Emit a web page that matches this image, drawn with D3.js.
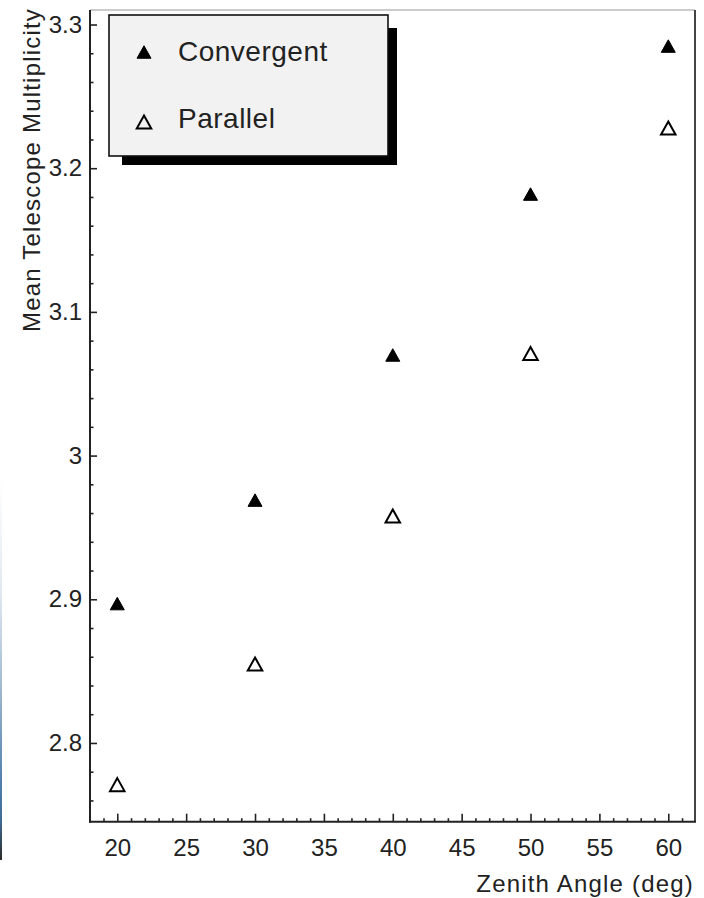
<!DOCTYPE html>
<html>
<head>
<meta charset="utf-8">
<script src="https://cdn.jsdelivr.net/npm/d3@7"></script>
<style>
  html, body { margin: 0; padding: 0; background: #fff; }
  svg { display: block; font-family: "Liberation Sans", Arial, Helvetica, sans-serif; }
</style>
</head>
<body>
<svg id="chart" width="704" height="898"></svg>
<script>
// Zenith angles (deg) and mean multiplicities for the two pointing modes
const zenithAngles = [20, 30, 40, 50, 60];
const convergent   = [2.897, 2.969, 3.070, 3.182, 3.285];
const parallel     = [2.771, 2.855, 2.958, 3.071, 3.228];

const xMajorTicks = [20, 25, 30, 35, 40, 45, 50, 55, 60];
const yMajorTicks = [2.8, 2.9, 3.0, 3.1, 3.2, 3.3];
const yTickLabels = ["2.8", "2.9", "3", "3.1", "3.2", "3.3"];

const seriesNames = ["Convergent", "Parallel"];

const svg = d3.select("#chart");
const ink = "#222";

const plot = { left: 90, right: 695, top: 10, bottom: 821.7 };

const x = d3.scaleLinear().domain([18.02, 61.94]).range([plot.left, plot.right]);
const y = d3.scaleLinear().domain([2.7452, 3.3101]).range([plot.bottom, plot.top]);

// thin coloured edge along the left side of the page
const defs = svg.append("defs");
const grad = defs.append("linearGradient").attr("id", "edge")
  .attr("x1", 0).attr("y1", 0).attr("x2", 0).attr("y2", 1);
[[0, "#ffffff"], [0.3, "#dfe8f0"], [0.55, "#9fb8cf"], [0.8, "#4f7fab"], [0.9, "#3f6a93"], [1, "#2a2a2a"]]
  .forEach(([o, c]) => grad.append("stop").attr("offset", o).attr("stop-color", c));
svg.append("rect").attr("x", 0).attr("y", 480).attr("width", 2).attr("height", 380)
  .attr("fill", "url(#edge)");

// frame: light top edge, darker right edge
svg.append("line").attr("x1", plot.left).attr("x2", plot.right)
  .attr("y1", plot.top).attr("y2", plot.top)
  .attr("stroke", "#9a9a9a").attr("stroke-width", 1.2);
svg.append("line").attr("x1", plot.right).attr("x2", plot.right)
  .attr("y1", plot.top).attr("y2", plot.bottom)
  .attr("stroke", "#444").attr("stroke-width", 2);

// axes with inward-pointing ticks
const xMinor = d3.range(19, 62, 1).filter(v => v % 5 !== 0);
const yMinor = d3.range(2.76, 3.305, 0.02).map(v => +v.toFixed(2))
  .filter(v => Math.abs(v * 10 - Math.round(v * 10)) > 1e-6);

const xAxisMinor = d3.axisBottom(x).tickValues(xMinor).tickSizeInner(-3.5).tickSizeOuter(0).tickFormat("");
const xAxisMajor = d3.axisBottom(x).tickValues(xMajorTicks).tickSizeInner(-8).tickSizeOuter(0)
  .tickPadding(16).tickFormat(d3.format("d"));
const yAxisMinor = d3.axisLeft(y).tickValues(yMinor).tickSizeInner(-3.5).tickSizeOuter(0).tickFormat("");
const yAxisMajor = d3.axisLeft(y).tickValues(yMajorTicks).tickSizeInner(-7).tickSizeOuter(0)
  .tickPadding(8).tickFormat((d, i) => yTickLabels[i]);

function styleAxis(g) {
  g.selectAll(".domain").remove();
  g.selectAll(".tick line").attr("stroke", ink).attr("stroke-width", 1.6);
  g.selectAll(".tick text").attr("fill", ink).attr("font-size", 24)
    .attr("font-family", "'Liberation Sans', Arial, Helvetica, sans-serif");
}

svg.append("g").attr("transform", `translate(0,${plot.bottom})`).call(xAxisMinor).call(styleAxis);
svg.append("g").attr("transform", `translate(0,${plot.bottom})`).call(xAxisMajor).call(styleAxis)
  .selectAll(".tick text").attr("dy", "0.71em").attr("y", 17);
svg.append("g").attr("transform", `translate(${plot.left},0)`).call(yAxisMinor).call(styleAxis);
svg.append("g").attr("transform", `translate(${plot.left},0)`).call(yAxisMajor).call(styleAxis);

// axis lines
svg.append("line").attr("x1", plot.left).attr("x2", plot.left)
  .attr("y1", plot.top).attr("y2", plot.bottom + 1)
  .attr("stroke", ink).attr("stroke-width", 2);
svg.append("line").attr("x1", plot.left - 1).attr("x2", plot.right + 1)
  .attr("y1", plot.bottom).attr("y2", plot.bottom)
  .attr("stroke", ink).attr("stroke-width", 2);

// axis titles
svg.append("text")
  .attr("x", 694).attr("y", 892)
  .attr("text-anchor", "end")
  .attr("font-size", 24).attr("letter-spacing", 1.2).attr("fill", ink)
  .text("Zenith Angle (deg)");
svg.append("text")
  .attr("transform", "translate(40,170) rotate(-90)")
  .attr("text-anchor", "middle")
  .attr("font-size", 24).attr("letter-spacing", 1.2).attr("fill", ink)
  .text("Mean Telescope Multiplicity");

// triangle marker, centred on its bounding box
const tri = (w, h) => `M0,${-h / 2}L${w / 2},${h / 2}L${-w / 2},${h / 2}Z`;
const filledTri = tri(14, 12.5);
const openTri = tri(14.5, 13);

const pts = g => g.attr("transform", d => `translate(${x(d.a)},${y(d.v)})`);

svg.append("g").selectAll("path")
  .data(zenithAngles.map((a, i) => ({ a, v: convergent[i] })))
  .join("path").call(pts)
  .attr("d", filledTri).attr("fill", "#000").attr("stroke", "#000").attr("stroke-width", 1);

svg.append("g").selectAll("path")
  .data(zenithAngles.map((a, i) => ({ a, v: parallel[i] })))
  .join("path").call(pts)
  .attr("d", openTri).attr("fill", "#fff").attr("stroke", "#000").attr("stroke-width", 2);

// legend with drop shadow
const legend = svg.append("g");
legend.append("rect").attr("x", 122).attr("y", 28).attr("width", 275).attr("height", 137).attr("fill", "#000");
legend.append("rect").attr("x", 109).attr("y", 15).attr("width", 279).attr("height", 141)
  .attr("fill", "#f2f2f2").attr("stroke", "#111").attr("stroke-width", 1.6);

const legendRows = [
  { name: seriesNames[0], d: filledTri, fill: "#000", sw: 1, cy: 52, base: 61 },
  { name: seriesNames[1], d: openTri, fill: "none", sw: 2, cy: 122, base: 128 }
];
legendRows.forEach(r => {
  legend.append("path").attr("transform", `translate(144,${r.cy})`)
    .attr("d", r.d).attr("fill", r.fill).attr("stroke", "#000").attr("stroke-width", r.sw);
  legend.append("text").attr("x", 178).attr("y", r.base)
    .attr("font-size", 28).attr("letter-spacing", 0.5).attr("fill", ink)
    .text(r.name);
});
</script>
</body>
</html>
